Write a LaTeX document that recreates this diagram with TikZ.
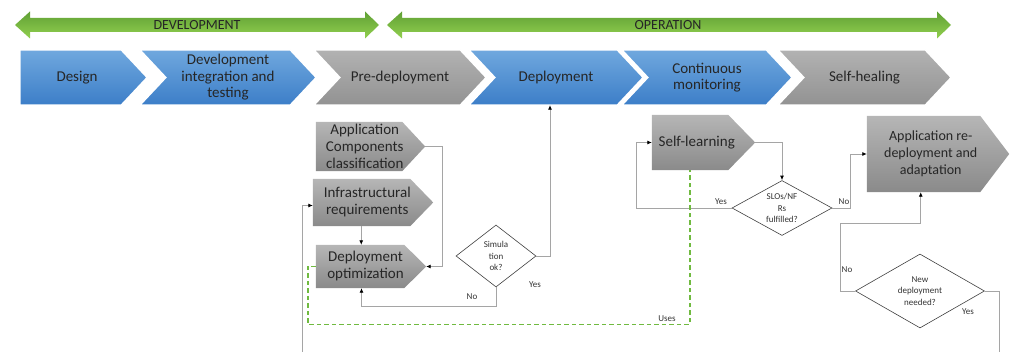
\documentclass[tikz,border=0pt]{standalone}
\usepackage{fontspec}
\setmainfont{Carlito}
\usetikzlibrary{shapes.geometric, arrows.meta, positioning, backgrounds}

\definecolor{bandtop}{RGB}{112,168,222}
\definecolor{bandbot}{RGB}{60,126,200}
\definecolor{greytop}{RGB}{178,178,178}
\definecolor{greybot}{RGB}{146,146,146}
\definecolor{boxtop}{RGB}{182,182,182}
\definecolor{boxbot}{RGB}{138,138,138}
\definecolor{greentop}{RGB}{96,160,52}
\definecolor{greenbot}{RGB}{146,208,80}
\definecolor{linkgrey}{RGB}{165,165,165}
\definecolor{usesgreen}{RGB}{112,186,64}
\definecolor{inkgrey}{RGB}{38,38,38}

\begin{document}
\begin{tikzpicture}[x=1pt, y=-1pt,
            phase/.style={inner sep=0pt, minimum height=55pt, align=center, text=inkgrey, font=\fontsize{15}{16.5}\selectfont},
            box/.style={inner sep=0pt, align=center, text=black!85, font=\fontsize{15}{17}\selectfont},
            decision/.style={diamond, draw=black!75, fill=white, line width=0.6pt, inner sep=0pt, align=center, text=black!80, font=\fontsize{9}{11.5}\selectfont},
            lbl/.style={inner sep=1pt, text=black!80, font=\fontsize{9}{11}\selectfont},
            blueband/.style={top color=bandtop, bottom color=bandbot, draw=white, line width=1.5pt},
            greyband/.style={top color=greytop, bottom color=greybot, draw=white, line width=1.5pt},
            greybox/.style={top color=boxtop, bottom color=boxbot},
            greenarrow/.style={top color=greentop, bottom color=greenbot},
            link/.style={draw=linkgrey, line width=0.8pt, -{Latex[length=4.5pt, width=4pt, color=black]}},
            uses/.style={draw=usesgreen, line width=1.6pt, dash pattern=on 4.5pt off 3pt}
        ]
            \useasboundingbox (0,0) rectangle (1010,352);

% Lifecycle phases
            \node[font=\fontsize{14}{16}\selectfont, text=inkgrey] (devlabel) at (197,25) {DEVELOPMENT};
            \node[font=\fontsize{14}{16}\selectfont, text=inkgrey] (oplabel) at (668,25) {OPERATION};

% Process steps
            \node[phase, minimum width=114pt] (design) at (77,77.5) {Design};
            \node[phase, minimum width=124pt] (devint) at (228,77.5) {Development\\integration and\\testing};
            \node[phase, minimum width=120pt] (predep) at (400,77.5) {Pre-deployment};
            \node[phase, minimum width=122pt] (deploy) at (556,77.5) {Deployment};
            \node[phase, minimum width=118pt] (monitor) at (707,77.5) {Continuous\\monitoring};
            \node[phase, minimum width=121pt] (healing) at (864.5,77.5) {Self-healing};

% Pre-deployment tasks
            \node[box, minimum width=97.5pt, minimum height=49pt] (appcomp) at (364.75,146.5) {Application\\Components\\classification};
            \node[box, minimum width=108.5pt, minimum height=47pt] (infra) at (367.25,202.5) {Infrastructural\\requirements};
            \node[box, minimum width=99pt, minimum height=43pt] (deplopt) at (365.5,266.5) {Deployment\\optimization};
            \node[decision, aspect=1.3, minimum width=80pt, minimum height=62pt] (sim) at (496,256) {Simula\\tion\\ok?};

% Monitoring and healing tasks
            \node[box, minimum width=89.5pt, minimum height=55pt] (selflearn) at (696.75,142.5) {Self-learning};
            \node[box, minimum width=127.5pt, minimum height=76pt, font=\fontsize{14}{17}\selectfont] (redeploy) at (930.75,154) {Application re-\\deployment and\\adaptation};
            \node[decision, aspect=1.8, minimum width=100pt, minimum height=55pt] (slo) at (782,208) {SLOs/NF\\Rs\\fulfilled?};
            \node[decision, aspect=1.75, minimum width=129pt, minimum height=74pt] (newdep) at (920,291) {New\\deployment\\needed?};

            \coordinate (feedback) at (302,352);
            \coordinate (exit) at (999,352);

% Flow
            \draw[link] ([xshift=-6pt]infra.south) -- ([xshift=-6pt]infra.south |- deplopt.north);
            \draw[link] ([xshift=11.5pt]appcomp.east) -- ++(17,0) |- ([xshift=11pt]deplopt.east);
            \draw[link] (feedback) |- ([yshift=-3pt]infra.west);
            \draw[link] (sim.east) -| ([xshift=-6pt]deploy.south);
            \draw[link] (sim.south) -- ++(0,19) -| ([xshift=-4pt]deplopt.south);
            \draw[link] ([xshift=13.5pt]selflearn.east) -| (slo.north);
            \draw[link] (slo.west) -- ++(-95,0) |- (selflearn.west);
            \draw[link] (slo.east) -- ++(18,0) |- (redeploy.west);
            \draw[link] (newdep.west) -- ++(-15,0) -- ++(0,-68) -| ([xshift=-10pt]redeploy.south);
            \draw[draw=linkgrey, line width=0.8pt] (newdep.east) -| (exit);
            \draw[uses] (deplopt.west) -- ++(-8,0) -- ++(0,58) -| ([xshift=-7pt]selflearn.south);

            \node[lbl] (simyes) at (535,285) {Yes};
            \node[lbl] (simno) at (472,297) {No};
            \node[lbl] (sloyes) at (721,202) {Yes};
            \node[lbl] (slono) at (844,202) {No};
            \node[lbl] (newno) at (847,270) {No};
            \node[lbl] (newyes) at (968,312) {Yes};
            \node[lbl] (useslbl) at (667,319) {Uses};

% Shapes behind the texts
            \begin{scope}[on background layer]
                \path[greenarrow] (15,25) -- (30,11.5) -- (30,18) -- (365,18) -- (365,11.5) -- (379,25) -- (365,38.5) -- (365,32) -- (30,32) -- (30,38.5) -- cycle;
                \path[greenarrow] (387,25) -- (402,11.5) -- (402,18) -- (937,18) -- (937,11.5) -- (951,25) -- (937,38.5) -- (937,32) -- (402,32) -- (402,38.5) -- cycle;

                \path[blueband] (design.north west) -- ([xshift=-13pt]design.north east) -- ([xshift=13pt]design.east) -- ([xshift=-13pt]design.south east) -- (design.south west) -- cycle;
                \path[blueband] ([xshift=-26pt]devint.north west) -- (devint.north east) -- ([xshift=26pt]devint.east) -- (devint.south east) -- ([xshift=-26pt]devint.south west) -- (devint.west) -- cycle;
                \path[greyband] ([xshift=-26pt]predep.north west) -- (predep.north east) -- ([xshift=26pt]predep.east) -- (predep.south east) -- ([xshift=-26pt]predep.south west) -- (predep.west) -- cycle;
                \path[blueband] ([xshift=-26pt]deploy.north west) -- (deploy.north east) -- ([xshift=26pt]deploy.east) -- (deploy.south east) -- ([xshift=-26pt]deploy.south west) -- (deploy.west) -- cycle;
                \path[blueband] ([xshift=-26pt]monitor.north west) -- (monitor.north east) -- ([xshift=26pt]monitor.east) -- (monitor.south east) -- ([xshift=-26pt]monitor.south west) -- (monitor.west) -- cycle;
                \path[greyband] ([xshift=-26pt]healing.north west) -- (healing.north east) -- ([xshift=26pt]healing.east) -- (healing.south east) -- ([xshift=-26pt]healing.south west) -- (healing.west) -- cycle;

                \path[greybox] (appcomp.north west) -- ([xshift=-11.5pt]appcomp.north east) -- ([xshift=11.5pt]appcomp.east) -- ([xshift=-11.5pt]appcomp.south east) -- (appcomp.south west) -- cycle;
                \path[greybox] (infra.north west) -- ([xshift=-11.5pt]infra.north east) -- ([xshift=11.5pt]infra.east) -- ([xshift=-11.5pt]infra.south east) -- (infra.south west) -- cycle;
                \path[greybox] (deplopt.north west) -- ([xshift=-11pt]deplopt.north east) -- ([xshift=11pt]deplopt.east) -- ([xshift=-11pt]deplopt.south east) -- (deplopt.south west) -- cycle;
                \path[greybox] (selflearn.north west) -- ([xshift=-13.5pt]selflearn.north east) -- ([xshift=13.5pt]selflearn.east) -- ([xshift=-13.5pt]selflearn.south east) -- (selflearn.south west) -- cycle;
                \path[greybox] (redeploy.north west) -- ([xshift=-14.5pt]redeploy.north east) -- ([xshift=14.5pt]redeploy.east) -- ([xshift=-14.5pt]redeploy.south east) -- (redeploy.south west) -- cycle;
            \end{scope}

        \end{tikzpicture}
\end{document}
